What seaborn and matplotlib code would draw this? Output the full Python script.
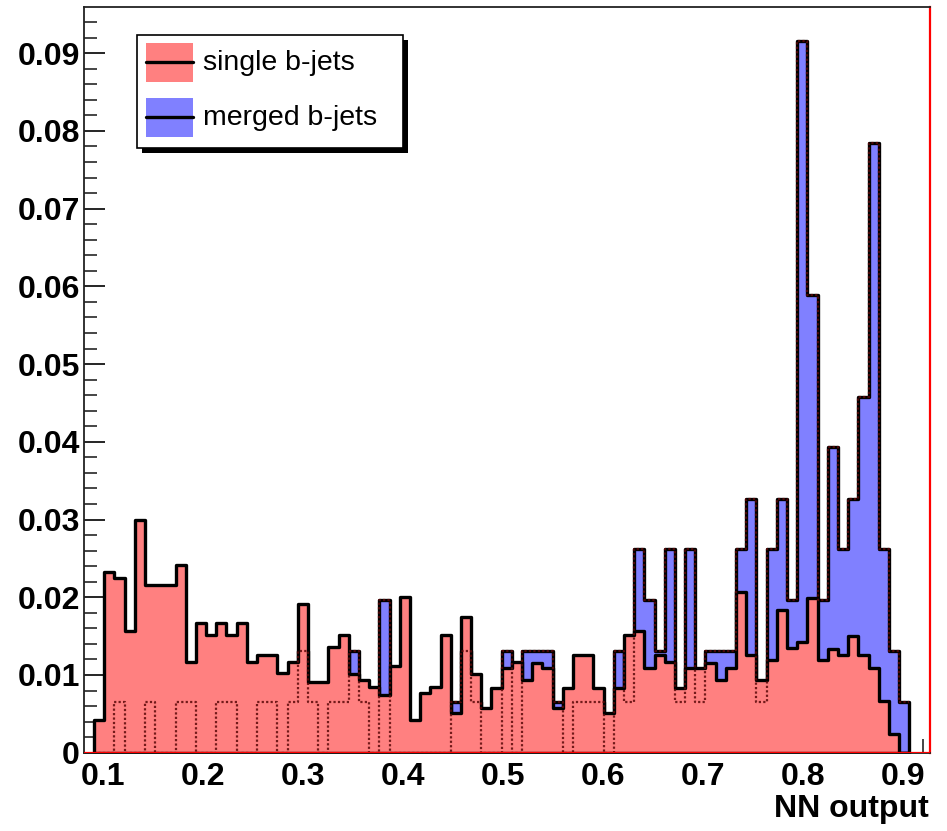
import numpy as np
import pandas as pd
import matplotlib
matplotlib.use("Agg")
import matplotlib.pyplot as plt
from matplotlib.patches import Rectangle
from matplotlib.lines import Line2D
from matplotlib.ticker import MultipleLocator
import seaborn as sns

# NN output binning: 80 equal-width bins
BIN_LOW, BIN_HIGH, N_BINS = 0.0907, 0.906, 80

# normalised bin contents, single b-jets
single_bjets = [
    0.0042, 0.0233, 0.0225, 0.0157, 0.0300, 0.0216, 0.0216, 0.0216, 0.0242, 0.0117,
    0.0167, 0.0151, 0.0167, 0.0151, 0.0167, 0.0117, 0.0126, 0.0126, 0.0102, 0.0117,
    0.0191, 0.0091, 0.0091, 0.0136, 0.0151, 0.0101, 0.0093, 0.0084, 0.0074, 0.0111,
    0.0200, 0.0042, 0.0077, 0.0084, 0.0151, 0.0051, 0.0174, 0.0101, 0.0058, 0.0083,
    0.0109, 0.0117, 0.0094, 0.0115, 0.0109, 0.0057, 0.0083, 0.0126, 0.0126, 0.0083,
    0.0051, 0.0083, 0.0151, 0.0156, 0.0109, 0.0126, 0.0117, 0.0083, 0.0109, 0.0109,
    0.0115, 0.0094, 0.0109, 0.0207, 0.0126, 0.0094, 0.0119, 0.0184, 0.0135, 0.0143,
    0.0199, 0.0119, 0.0134, 0.0126, 0.0150, 0.0126, 0.0109, 0.0067, 0.0024, 0.0000,
]

# normalised bin contents, merged b-jets
merged_bjets = [
    0.0000, 0.0000, 0.0065, 0.0000, 0.0000, 0.0065, 0.0000, 0.0000, 0.0065, 0.0065,
    0.0000, 0.0000, 0.0065, 0.0065, 0.0000, 0.0000, 0.0065, 0.0065, 0.0000, 0.0065,
    0.0131, 0.0065, 0.0000, 0.0065, 0.0065, 0.0131, 0.0065, 0.0000, 0.0196, 0.0000,
    0.0000, 0.0000, 0.0000, 0.0000, 0.0000, 0.0065, 0.0131, 0.0065, 0.0000, 0.0000,
    0.0131, 0.0000, 0.0131, 0.0131, 0.0131, 0.0065, 0.0000, 0.0065, 0.0065, 0.0065,
    0.0000, 0.0131, 0.0065, 0.0262, 0.0196, 0.0131, 0.0262, 0.0065, 0.0262, 0.0065,
    0.0131, 0.0131, 0.0131, 0.0262, 0.0327, 0.0065, 0.0262, 0.0327, 0.0196, 0.0916,
    0.0589, 0.0196, 0.0393, 0.0262, 0.0327, 0.0458, 0.0785, 0.0262, 0.0131, 0.0065,
]

x_ticks = [0.1, 0.2, 0.3, 0.4, 0.5, 0.6, 0.7, 0.8, 0.9]
x_tick_labels = ["0.1", "0.2", "0.3", "0.4", "0.5", "0.6", "0.7", "0.8", "0.9"]
y_ticks = [0.0, 0.01, 0.02, 0.03, 0.04, 0.05, 0.06, 0.07, 0.08, 0.09]
y_tick_labels = ["0", "0.01", "0.02", "0.03", "0.04", "0.05", "0.06", "0.07", "0.08", "0.09"]

series_names = ["single b-jets", "merged b-jets"]

RED_FILL = "#ff8080"
BLUE_FILL = "#8080ff"

edges = np.linspace(BIN_LOW, BIN_HIGH, N_BINS + 1)
centers = 0.5 * (edges[:-1] + edges[1:])
bin_edges = edges.tolist()
df = pd.DataFrame({"nn": centers, "single": single_bjets, "merged": merged_bjets})

sns.set_theme(style="white")
plt.rcParams["font.family"] = ["Liberation Sans", "DejaVu Sans"]
plt.rcParams["text.color"] = "black"

W, H = 947, 831
fig = plt.figure(figsize=(W / 100, H / 100), dpi=100)
fig.patch.set_facecolor("white")
ax = fig.add_axes([84 / W, 1 - 752.7 / H, (930 - 84) / W, (752.7 - 7.3) / H])
ax.set_facecolor("white")

# merged b-jets underneath, single b-jets drawn over it
sns.histplot(data=df, x="nn", weights="merged", bins=bin_edges, element="step",
             fill=True, color=BLUE_FILL, alpha=1, edgecolor="black",
             linewidth=2.4, ax=ax, zorder=1)
sns.histplot(data=df, x="nn", weights="single", bins=bin_edges, element="step",
             fill=True, color=RED_FILL, alpha=1, edgecolor="black",
             linewidth=2.4, ax=ax, zorder=2)
# outline of merged b-jets showing through the pattern fill
sns.histplot(data=df, x="nn", weights="merged", bins=bin_edges, element="step",
             fill=False, color="#5a0808", alpha=0.85, linewidth=1.6,
             linestyle=(0, (1, 1)), ax=ax, zorder=3)

ax.axhline(0, color="red", lw=1.6, zorder=4)

ax.set_xlim(0.0807, 0.9267)
ax.set_ylim(0, 0.0959)
ax.set_xlabel("")
ax.set_ylabel("")

ax.set_xticks(x_ticks, x_tick_labels)
ax.set_yticks(y_ticks, y_tick_labels)
ax.xaxis.set_minor_locator(MultipleLocator(0.02))
ax.yaxis.set_minor_locator(MultipleLocator(0.002))
ax.tick_params(axis="x", which="major", direction="in", length=22, width=1.2,
               bottom=True, top=False, labelsize=23, pad=7, colors="black")
ax.tick_params(axis="x", which="minor", direction="in", length=10, width=1.2,
               bottom=True, top=False)
ax.tick_params(axis="y", which="major", direction="in", length=15, width=1.2,
               left=True, right=False, labelsize=23, pad=3, colors="black")
ax.tick_params(axis="y", which="minor", direction="in", length=9, width=1.2,
               left=True, right=False)
for lab in ax.get_xticklabels() + ax.get_yticklabels():
    lab.set_fontweight("bold")
    lab.set_color("black")

for side in ["left", "top", "bottom"]:
    ax.spines[side].set_color("#222222")
    ax.spines[side].set_linewidth(1.3)
ax.spines["right"].set_color("red")
ax.spines["right"].set_linewidth(1.6)

ax.set_xlabel("NN output", fontsize=23, fontweight="bold", loc="right",
              color="black")
ax.xaxis.label.set_va("center")
ax.xaxis.set_label_coords(0.998, -0.0755)


# legend box with drop shadow, placed in figure pixels
def px_rect(x0, y0, x1, y1, **kw):
    return Rectangle((x0 / W, 1 - y1 / H), (x1 - x0) / W, (y1 - y0) / H,
                     transform=fig.transFigure, **kw)


fig.add_artist(px_rect(142, 40, 408, 153, facecolor="black", edgecolor="none", zorder=10))
fig.add_artist(px_rect(137, 35, 403, 148, facecolor="white", edgecolor="black",
                       linewidth=1.2, zorder=11))
for (y0, y1, ymid), fill, name in zip([(43, 82, 62), (98, 137, 117)],
                                      [RED_FILL, BLUE_FILL], series_names):
    fig.add_artist(px_rect(146, y0, 193, y1, facecolor=fill, edgecolor="none", zorder=12))
    fig.add_artist(Line2D([146 / W, 193 / W], [1 - ymid / H, 1 - ymid / H],
                          transform=fig.transFigure, color="black", lw=2.4, zorder=13))
    fig.text(203 / W, 1 - (ymid + 1) / H, name, fontsize=20.5, va="center",
             ha="left", color="black", zorder=13)

fig.savefig("out.png", dpi=100)
